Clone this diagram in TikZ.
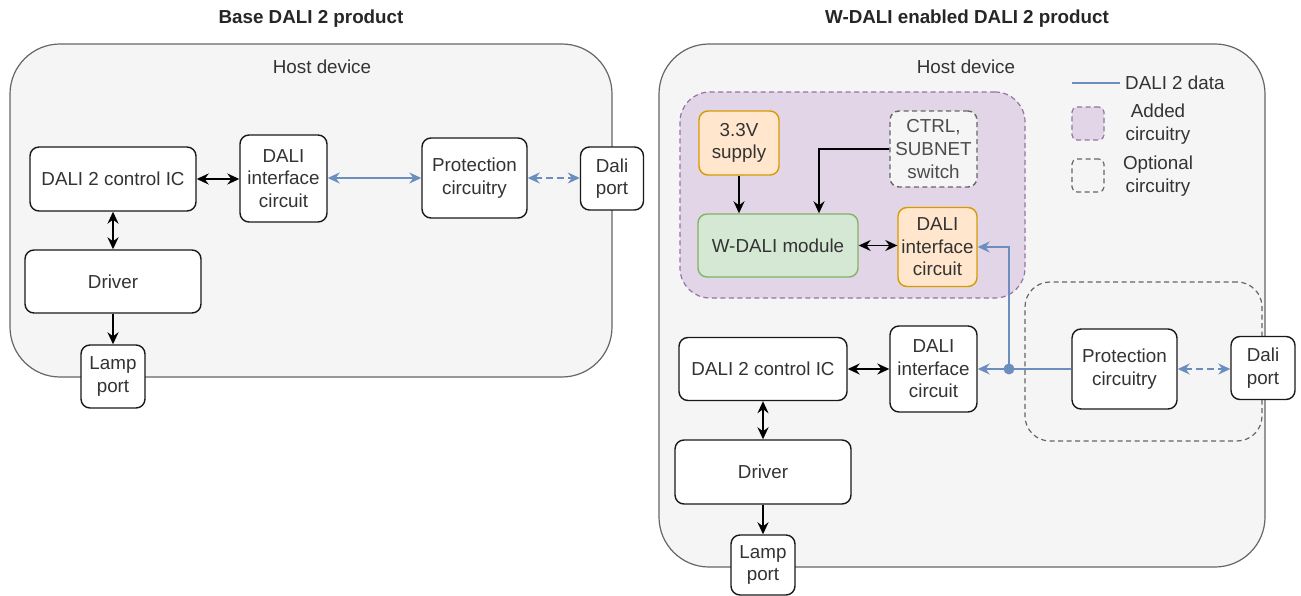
\documentclass[tikz,border=0pt]{standalone}
\usepackage{fontspec}
\setmainfont{Liberation Sans}
\usetikzlibrary{arrows.meta}
\definecolor{hostfill}{HTML}{F5F5F5}
\definecolor{hostline}{HTML}{666666}
\definecolor{txt}{HTML}{333333}
\definecolor{softtxt}{HTML}{4D4D4D}
\definecolor{daliblue}{HTML}{6C8EBF}
\definecolor{addfill}{HTML}{E1D5E7}
\definecolor{addline}{HTML}{9673A6}
\definecolor{supfill}{HTML}{FFE6CC}
\definecolor{supline}{HTML}{D79B00}
\definecolor{modfill}{HTML}{D5E8D4}
\definecolor{modline}{HTML}{82B366}
\tikzset{
  headtip/.tip={Stealth[length=12pt,width=11pt,inset=4pt]},
  twoway/.style={arrows={headtip-headtip}},
  oneway/.style={arrows={-headtip}}
}
\begin{document}
\begin{tikzpicture}[x=1pt,y=-1pt,
  every node/.style={font=\fontsize{18.8}{22.6}\selectfont, text=txt},
  host/.style={draw=hostline, fill=hostfill, line width=1.2pt, rounded corners=50pt, inner sep=0pt},
  titletext/.style={font=\fontsize{18.8}{22.6}\selectfont\bfseries, text=black!85},
  block/.style={draw=black!90, fill=white, line width=1.4pt, rounded corners=9pt, align=center, inner sep=0pt},
  supplybox/.style={block, draw=supline, fill=supfill},
  modulebox/.style={block, draw=modline, fill=modfill},
  optbox/.style={block, draw=hostline, fill=hostfill, dash pattern=on 5pt off 3.5pt, text=softtxt},
  addedarea/.style={draw=addline, fill=addfill, line width=1.2pt, dash pattern=on 5pt off 3.5pt, rounded corners=30pt, inner sep=0pt},
  optarea/.style={draw=hostline, line width=1.2pt, dash pattern=on 5pt off 3.5pt, rounded corners=25pt, inner sep=0pt},
  ctrlline/.style={line width=1.8pt, black},
  dataline/.style={line width=1.6pt, daliblue},
  datadash/.style={dataline, dash pattern=on 7pt off 4pt},
  legendtext/.style={align=center, inner sep=0pt}
]
\useasboundingbox (0,0) rectangle (1301,596);

% ---------------- Base DALI 2 product ----------------
\node[titletext] (title1) at (311,19) {Base DALI 2 product};
\node[host, minimum width=602pt, minimum height=333pt] (host1) at (311,210.5) {};
\node (hd1) at (322,67) {Host device};

\node[block, minimum width=166pt, minimum height=64pt] (ic1) at (113,179) {DALI 2 control IC};
\node[block, minimum width=87pt, minimum height=87pt] (if1) at (283.5,178.5) {DALI\\interface\\circuit};
\node[block, minimum width=105pt, minimum height=80pt] (pr1) at (474.5,178) {Protection\\circuitry};
\node[block, minimum width=63pt, minimum height=63pt] (dp1) at (612,178.5) {Dali\\port};
\node[block, minimum width=176pt, minimum height=63pt] (drv1) at (113,281.5) {Driver};
\node[block, minimum width=64pt, minimum height=63pt] (lamp1) at (113,376.5) {Lamp\\port};

\draw[ctrlline, twoway] (ic1.east) -- (if1.west |- ic1.east);
\draw[dataline, twoway] (if1.east |- pr1.west) -- (pr1.west);
\draw[datadash, twoway] (pr1.east) -- (dp1.west |- pr1.east);
\draw[ctrlline, twoway] (ic1.south) -- (drv1.north -| ic1.south);
\draw[ctrlline, oneway] (drv1.south -| lamp1.north) -- (lamp1.north);

% ---------------- W-DALI enabled DALI 2 product ----------------
\node[titletext] (title2) at (967,19) {W-DALI enabled DALI 2 product};
\node[host, minimum width=606pt, minimum height=523pt] (host2) at (962,305.5) {};
\node (hd2) at (966,67) {Host device};

% added and optional circuitry areas
\node[addedarea, minimum width=345pt, minimum height=206pt] (added) at (852.5,195) {};
\node[optarea, minimum width=237pt, minimum height=159pt] (optional) at (1143.5,361.5) {};

% legend
\coordinate (lgA) at (1072,83);
\coordinate (lgB) at (1120,83);
\draw[dataline, line width=1.2pt] (lgA) -- (lgB);
\node[anchor=west, inner sep=0pt] (lgdata) at (1125,83) {DALI 2 data};
\node[addedarea, rounded corners=5pt, minimum width=32pt, minimum height=33pt] (lgadd) at (1088,123.5) {};
\node[legendtext] (lgaddtxt) at (1158,124) {Added\\circuitry};
\node[optarea, rounded corners=5pt, minimum width=32pt, minimum height=33pt] (lgopt) at (1088,175.5) {};
\node[legendtext] (lgopttxt) at (1158,176) {Optional\\circuitry};

% blocks inside the added area
\node[supplybox, minimum width=80pt, minimum height=64pt] (sup) at (739,143) {3.3V\\supply};
\node[optbox, minimum width=87pt, minimum height=76pt] (ctrl) at (933.5,149) {CTRL,\\SUBNET\\switch};
\node[modulebox, minimum width=160pt, minimum height=63pt] (wdali) at (778,245.5) {W-DALI module};
\node[supplybox, minimum width=79pt, minimum height=79pt] (if2a) at (937.5,247) {DALI\\interface\\circuit};

% base blocks
\node[block, minimum width=168pt, minimum height=63pt] (ic2) at (763,369) {DALI 2 control IC};
\node[block, minimum width=87pt, minimum height=86pt] (if2) at (933.5,369) {DALI\\interface\\circuit};
\node[block, minimum width=105pt, minimum height=80pt] (pr2) at (1124.5,369) {Protection\\circuitry};
\node[block, minimum width=64pt, minimum height=63pt] (dp2) at (1263,368) {Dali\\port};
\node[block, minimum width=176pt, minimum height=64pt] (drv2) at (763,472) {Driver};
\node[block, minimum width=64pt, minimum height=60pt] (lamp2) at (763,565) {Lamp\\port};

% connectors
\draw[ctrlline, oneway] (sup.south) -- (wdali.north -| sup.south);
\coordinate (ctrlbend) at (819,149);
\draw[ctrlline, oneway] (ctrl.west) -- (ctrlbend) -- (wdali.north -| ctrlbend);
\draw[ctrlline, twoway] (wdali.east) -- (if2a.west |- wdali.east);

\coordinate (junction) at (1009,369);
\draw[dataline] (pr2.west |- junction) -- (junction);
\draw[dataline, oneway] (junction) -- (if2.east |- junction);
\draw[dataline, oneway] (junction) -- (junction |- if2a.east) -- (if2a.east);
\fill[daliblue] (junction) circle (5.5pt);
\draw[datadash, twoway] (pr2.east) -- (dp2.west |- pr2.east);

\draw[ctrlline, twoway] (ic2.east) -- (if2.west |- ic2.east);
\draw[ctrlline, twoway] (ic2.south) -- (drv2.north -| ic2.south);
\draw[ctrlline, oneway] (drv2.south -| lamp2.north) -- (lamp2.north);
\end{tikzpicture}
\end{document}
